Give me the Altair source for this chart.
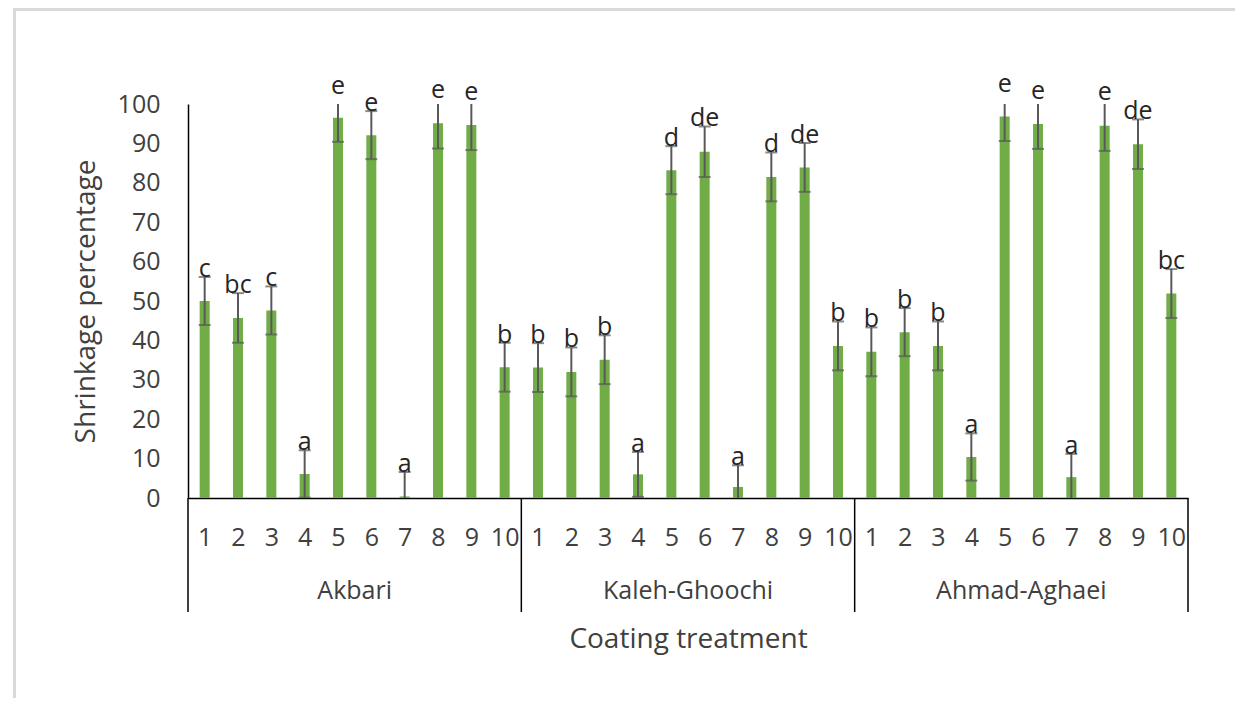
import altair as alt
import pandas as pd

# ---- data ----
groups = ["Akbari", "Kaleh-Ghoochi", "Ahmad-Aghaei"]
treatments = [1, 2, 3, 4, 5, 6, 7, 8, 9, 10]

akbari = [50.0, 45.7, 47.6, 6.1, 96.5, 92.1, 0.4, 95.1, 94.7, 33.2]
kaleh = [33.1, 32.0, 35.1, 6.0, 83.2, 87.9, 2.8, 81.5, 83.9, 38.6]
ahmad = [37.1, 42.1, 38.6, 10.4, 96.8, 94.9, 5.3, 94.5, 89.8, 51.9]

akbari_err = [6.1, 6.3, 6.1, 6.0, 6.1, 6.1, 6.2, 6.4, 6.4, 6.2]
kaleh_err = [6.2, 6.2, 6.2, 5.7, 6.1, 6.4, 5.5, 6.2, 6.2, 6.2]
ahmad_err = [6.2, 6.1, 6.2, 6.0, 6.2, 6.3, 5.9, 6.4, 6.3, 6.2]

akbari_let = ["c", "bc", "c", "a", "e", "e", "a", "e", "e", "b"]
kaleh_let = ["b", "b", "b", "a", "d", "de", "a", "d", "de", "b"]
ahmad_let = ["b", "b", "b", "a", "e", "e", "a", "e", "de", "bc"]

values = [akbari, kaleh, ahmad]
errs = [akbari_err, kaleh_err, ahmad_err]
letters = [akbari_let, kaleh_let, ahmad_let]

rows = []
for gi, g in enumerate(groups):
    for ti, t in enumerate(treatments):
        v = values[gi][ti]
        e = errs[gi][ti]
        rows.append(dict(group=g, trt=t, pos=gi * len(treatments) + ti + 0.5,
                         value=v, lo=v - e, hi=v + e, letter=letters[gi][ti]))
df = pd.DataFrame(rows)

n = len(groups) * len(treatments)
div_df = pd.DataFrame({"b": [gi * len(treatments) for gi in range(len(groups) + 1)]})
grp_df = pd.DataFrame({"group": groups,
                       "c": [gi * len(treatments) + len(treatments) / 2 for gi in range(len(groups))]})

FONT = "Open Sans"
TXT = "#404040"
W, H = 1000, 394
LBL = 25

xscale = alt.Scale(domain=[0, n], nice=False, zero=False, padding=0)
yscale = alt.Scale(domain=[0, 100], nice=False)

x_axis = alt.Axis(values=[i + 0.5 for i in range(n)],
                  labelExpr="(floor(datum.value) % 10) + 1",
                  grid=False, ticks=False, tickSize=0, domainColor="black", domainWidth=1.5,
                  labelPadding=39, labelBaseline="middle", labelFlush=False, labelOverlap=False,
                  labelFontSize=LBL, labelColor=TXT, labelFont=FONT,
                  title="Coating treatment", titleX=W / 2, titleY=141, titleBaseline="middle",
                  titleAlign="center", titleFontSize=28, titleFontWeight="normal",
                  titleColor=TXT, titleFont=FONT)
y_axis = alt.Axis(values=list(range(0, 101, 10)), grid=False, ticks=False, tickSize=0,
                  domainColor="black", domainWidth=1.5, labelPadding=28, labelOverlap=False,
                  labelFontSize=LBL, labelColor=TXT, labelFont=FONT,
                  title="Shrinkage percentage", titleX=-102, titleY=H / 2, titleAngle=270,
                  titleBaseline="middle", titleAlign="center", titleFontSize=28,
                  titleFontWeight="normal", titleColor=TXT, titleFont=FONT)

X = alt.X("pos:Q", scale=xscale, axis=x_axis)

base = alt.Chart(df)

bars = base.mark_bar(size=10, color="#70AD47").encode(
    x=X, y=alt.Y("value:Q", scale=yscale, axis=y_axis))

err_rule = base.mark_rule(color="#595959", strokeWidth=2, clip=True).encode(
    x=X, y=alt.Y("lo:Q", scale=yscale, axis=y_axis), y2="hi:Q")
cap_lo = base.mark_tick(color="#595959", size=12, thickness=2, orient="horizontal", clip=True).encode(
    x=X, y=alt.Y("lo:Q", scale=yscale, axis=y_axis))
cap_hi = base.mark_tick(color="#595959", size=12, thickness=2, orient="horizontal", clip=True).encode(
    x=X, y=alt.Y("hi:Q", scale=yscale, axis=y_axis))

labels = base.mark_text(baseline="alphabetic", fontSize=LBL, font=FONT, color="#262626").encode(
    x=X, y=alt.Y("hi:Q", scale=yscale, axis=y_axis), text="letter:N")

dividers = alt.Chart(div_df).mark_rule(color="black", strokeWidth=1.5).encode(
    x=alt.X("b:Q", scale=xscale, axis=x_axis), y=alt.value(H), y2=alt.value(H + 114))

grp_text = alt.Chart(grp_df).mark_text(fontSize=LBL, font=FONT, color=TXT, baseline="middle").encode(
    x=alt.X("c:Q", scale=xscale, axis=x_axis), y=alt.value(487), text="group:N")

one = pd.DataFrame({"k": [0]})
frame_left = alt.Chart(one).mark_rule(color="#d9d9d9", strokeWidth=3).encode(
    x=alt.value(-173.5), y=alt.value(-94.5), y2=alt.value(700))
frame_top = alt.Chart(one).mark_rule(color="#d9d9d9", strokeWidth=3).encode(
    x=alt.value(-175), x2=alt.value(1060), y=alt.value(-94.5))

chart = alt.layer(frame_left, frame_top, bars, err_rule, cap_lo, cap_hi, labels, dividers, grp_text).properties(
    width=W, height=H,
    padding={"left": 180, "top": 96, "right": 47, "bottom": 200},
    autosize=alt.AutoSizeParams(type="none"),
    background="white",
).configure_view(stroke=None)

chart.save("out.html", embed_options={"renderer": "svg", "actions": False})
